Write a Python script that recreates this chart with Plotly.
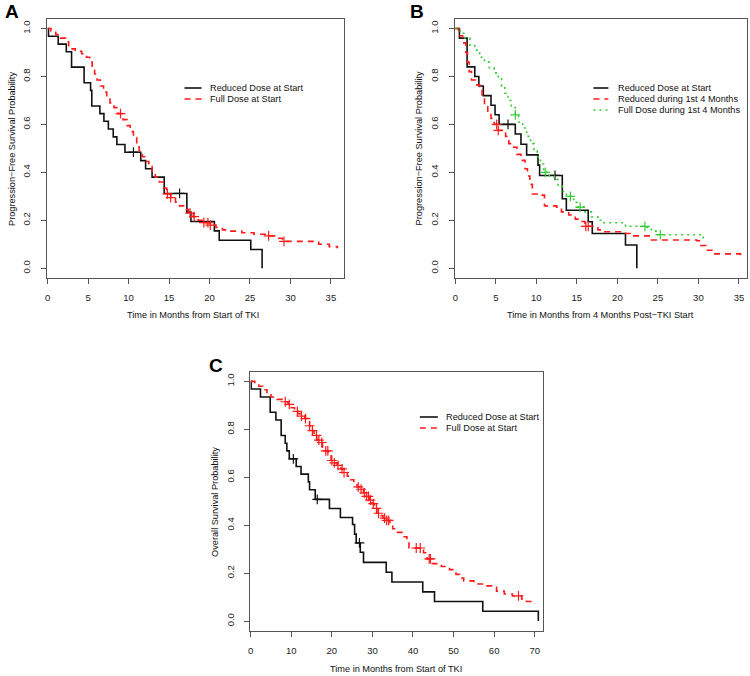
import numpy as np
import plotly.graph_objects as go

# ---- Panel A: PFS from start of TKI ----
pfsA_reduced_t = [0, 0.1, 1.3, 2.3, 2.95, 4.5, 5.3, 5.45, 6.45, 6.95, 7.5, 8.1, 8.55, 9.55,
                  11.5, 12.1, 12.9, 14.4, 17.2, 17.7, 20.6, 21.2, 25.1, 26.5]
pfsA_reduced_s = [1.0, 0.968, 0.935, 0.903, 0.839, 0.774, 0.742, 0.677, 0.645, 0.613, 0.581, 0.548, 0.516, 0.484,
                  0.449, 0.415, 0.380, 0.312, 0.234, 0.195, 0.156, 0.117, 0.078, 0.0]
pfsA_reduced_cens = [10.6, 16.3]

pfsA_full_t = [0, 0.4, 1.0, 1.6, 2.2, 2.6, 3.4, 4.2, 4.8, 5.2, 5.5, 5.8, 6.1, 6.5, 6.9, 7.3, 7.7, 8.2,
               8.7, 9.3, 9.8, 10.2, 10.6, 11.0, 11.3, 11.7, 12.1, 12.5, 12.9, 13.3, 13.8, 14.3, 14.7,
               15.2, 15.8, 16.3, 16.8, 17.4, 18.0, 18.6, 19.3, 20.1, 20.8, 21.6, 22.5, 24.0, 25.5,
               27.0, 28.2, 29.0, 33.5, 34.8, 35.8]
pfsA_full_s = [1.0, 0.99, 0.975, 0.96, 0.945, 0.915, 0.905, 0.895, 0.88, 0.86, 0.835, 0.81, 0.785, 0.76,
               0.735, 0.71, 0.69, 0.67, 0.645, 0.62, 0.595, 0.57, 0.545, 0.515, 0.49, 0.465, 0.445, 0.425,
               0.40, 0.38, 0.36, 0.335, 0.31, 0.295, 0.275, 0.26, 0.245, 0.23, 0.215, 0.2, 0.19, 0.18,
               0.17, 0.16, 0.155, 0.148, 0.142, 0.135, 0.125, 0.112, 0.10, 0.09, 0.083]
pfsA_full_cens = [9.0, 14.8, 15.2, 17.6, 18.1, 19.3, 19.8, 20.1, 27.3, 29.2]

# ---- Panel B: PFS from 4 months post-TKI start ----
pfsB_reduced_t = [0, 0.5, 1.45, 2.4, 2.9, 3.45, 4.4, 4.9, 5.4, 7.4, 8.1, 8.8, 10.2, 10.4, 13.2, 13.7,
                  16.4, 16.9, 21.0, 22.4]
pfsB_reduced_s = [1.0, 0.96, 0.84, 0.80, 0.76, 0.72, 0.68, 0.64, 0.60, 0.56, 0.517, 0.473, 0.43, 0.387,
                  0.29, 0.242, 0.194, 0.145, 0.097, 0.0]
pfsB_reduced_cens = [6.5, 12.3]

pfsB_red4_t = [0, 0.4, 0.9, 1.3, 1.5, 1.7, 2.0, 2.5, 3.0, 3.3, 3.6, 4.0, 4.4, 4.8, 5.2, 6.2, 6.6, 7.2,
               7.6, 8.1, 8.6, 8.9, 9.2, 9.5, 10.7, 11.0, 12.5, 13.1, 14.0, 14.8, 15.3, 16.0, 17.6, 18.3,
               21.0, 21.6, 24.2, 29.8, 30.3, 30.9, 31.8, 35.2]
pfsB_red4_s = [1.0, 0.97, 0.94, 0.90, 0.86, 0.82, 0.785, 0.765, 0.745, 0.71, 0.68, 0.65, 0.625, 0.60,
               0.575, 0.55, 0.52, 0.505, 0.475, 0.45, 0.415, 0.385, 0.35, 0.31, 0.305, 0.26, 0.255, 0.235,
               0.222, 0.205, 0.195, 0.175, 0.16, 0.152, 0.145, 0.135, 0.118, 0.115, 0.095, 0.075, 0.06, 0.04]
pfsB_red4_cens = [5.1, 5.3, 16.1, 16.4]

pfsB_full4_t = [0, 0.6, 1.2, 1.8, 2.4, 3.0, 3.6, 4.2, 4.8, 5.3, 5.7, 6.1, 6.5, 6.9, 7.4, 7.8, 8.3, 8.8,
                9.3, 9.7, 10.1, 10.5, 10.9, 11.6, 12.2, 12.7, 13.2, 13.7, 14.6, 15.0, 16.0, 16.8, 17.6,
                18.2, 21.0, 23.5, 24.2, 25.0, 30.6]
pfsB_full4_s = [1.0, 0.98, 0.96, 0.93, 0.91, 0.88, 0.86, 0.835, 0.815, 0.79, 0.76, 0.73, 0.70, 0.67,
                0.64, 0.61, 0.585, 0.55, 0.52, 0.49, 0.465, 0.435, 0.40, 0.385, 0.37, 0.345, 0.32, 0.30,
                0.275, 0.255, 0.235, 0.215, 0.20, 0.19, 0.175, 0.17, 0.155, 0.14, 0.12]
pfsB_full4_cens = [7.4, 11.1, 14.2, 15.4, 23.4, 25.3]

# ---- Panel C: overall survival ----
osC_reduced_t = [0, 0.1, 2.4, 4.8, 6.2, 7.5, 8.5, 8.9, 9.5, 11.2, 12.4, 14.2, 14.5, 15.9, 19.4, 22.1,
                 25.1, 25.6, 26.0, 27.0, 27.8, 33.4, 34.8, 42.4, 45.3, 57.2, 70.9]
osC_reduced_s = [1.0, 0.968, 0.935, 0.871, 0.839, 0.774, 0.742, 0.710, 0.677, 0.645, 0.613, 0.581, 0.548,
                 0.508, 0.470, 0.432, 0.403, 0.363, 0.326, 0.287, 0.245, 0.204, 0.163, 0.122, 0.082,
                 0.041, 0.0]
osC_reduced_cens = [10.5, 16.4, 26.8]

osC_full_t = [0, 1.0, 2.0, 3.0, 4.0, 5.0, 6.5, 8.0, 9.2, 10.0, 10.8, 11.6, 12.4, 13.3, 14.0, 14.5, 15.0,
              15.6, 16.3, 17.0, 17.7, 18.4, 19.1, 19.8, 20.5, 21.3, 22.2, 23.0, 23.8, 24.6, 25.4, 26.2,
              27.0, 27.8, 28.5, 29.2, 29.9, 30.5, 31.1, 31.8, 32.6, 33.5, 34.3, 35.0, 35.7, 37.5, 38.5,
              39.0, 42.6, 43.5, 44.5, 47.0, 49.0, 50.6, 51.5, 52.5, 55.0, 57.5, 60.6, 62.5, 64.5, 66.8,
              68.0, 70.0]
osC_full_s = [1.0, 0.99, 0.98, 0.965, 0.95, 0.935, 0.925, 0.915, 0.904, 0.89, 0.875, 0.865, 0.855, 0.845,
              0.83, 0.815, 0.795, 0.775, 0.755, 0.745, 0.725, 0.71, 0.69, 0.67, 0.66, 0.65, 0.635, 0.62,
              0.605, 0.59, 0.575, 0.56, 0.55, 0.535, 0.52, 0.505, 0.49, 0.47, 0.45, 0.44, 0.43, 0.42,
              0.405, 0.385, 0.37, 0.352, 0.33, 0.305, 0.285, 0.26, 0.24, 0.228, 0.215, 0.195, 0.18,
              0.168, 0.155, 0.147, 0.125, 0.113, 0.105, 0.092, 0.082, 0.072]
osC_full_cens = [8.5, 9.5, 11.5, 12.5, 13.5, 14.5, 15.2, 16.2, 16.8, 17.5, 18.5, 19.0, 20.0, 20.6, 21.5,
                 22.5, 23.0, 26.5, 27.2, 28.0, 28.5, 29.0, 29.5, 30.2, 31.0, 31.5, 33.0, 33.5, 34.0,
                 40.8, 41.8, 44.0, 44.3, 66.0]

BLACK = "#111111"
RED = "#ff1a1a"
GREEN = "#33cc33"
FONT = "Liberation Sans, Arial, sans-serif"
DASH = "6px,5px"
DOT = "2px,4px"
W, H = 750, 676


def surv_at(times, surv, t):
    idx = np.searchsorted(np.array(times), np.array(t), side="right") - 1
    return list(np.array(surv)[idx])


def km(fig, times, surv, cens, name, color, dash, xa, ya, width=1.6):
    fig.add_trace(go.Scatter(x=times, y=surv, mode="lines", line_shape="hv", name=name, showlegend=False,
                             line=dict(color=color, width=width, dash=dash),
                             xaxis=xa, yaxis=ya, hoverinfo="skip"))
    fig.add_trace(go.Scatter(x=cens, y=surv_at(times, surv, cens), mode="markers", showlegend=False,
                             marker=dict(symbol="cross-thin", size=7, line=dict(color=color, width=1.2)),
                             xaxis=xa, yaxis=ya, hoverinfo="skip"))


# R-style legend without box: short line sample then label, rows 11 px apart
def r_legend(fig, entries, x0, x1, xt, y0, dy=11):
    for i, (label, color, dash) in enumerate(entries):
        yy = 1 - (y0 + i * dy) / H
        fig.add_shape(type="line", xref="paper", yref="paper", x0=x0 / W, x1=x1 / W, y0=yy, y1=yy,
                      line=dict(color=color, width=1.6, dash=dash))
        fig.add_annotation(xref="paper", yref="paper", x=xt / W, y=yy, text=label, showarrow=False,
                           xanchor="left", yanchor="middle",
                           font=dict(family=FONT, size=9.2, color="#111111"))


fig = go.Figure()

km(fig, pfsA_reduced_t, pfsA_reduced_s, pfsA_reduced_cens, "Reduced Dose at Start", BLACK, "solid", "x", "y")
km(fig, pfsA_full_t, pfsA_full_s, pfsA_full_cens, "Full Dose at Start", RED, DASH, "x", "y")

km(fig, pfsB_reduced_t, pfsB_reduced_s, pfsB_reduced_cens, "Reduced Dose at Start", BLACK, "solid", "x2", "y2")
km(fig, pfsB_red4_t, pfsB_red4_s, pfsB_red4_cens, "Reduced during 1st 4 Months", RED, DASH, "x2", "y2")
km(fig, pfsB_full4_t, pfsB_full4_s, pfsB_full4_cens, "Full Dose during 1st 4 Months", GREEN, DOT, "x2", "y2")

km(fig, osC_reduced_t, osC_reduced_s, osC_reduced_cens, "Reduced Dose at Start", BLACK, "solid", "x3", "y3")
km(fig, osC_full_t, osC_full_s, osC_full_cens, "Full Dose at Start", RED, DASH, "x3", "y3")

axis_common = dict(showline=True, mirror=True, linecolor="#555555", linewidth=1, ticks="outside",
                   ticklen=5, tickcolor="#555555", showgrid=False, zeroline=False,
                   tickfont=dict(family=FONT, size=9.5, color="#222222"))
yaxis_common = dict(axis_common, range=[-0.04, 1.04], tickvals=[0, 0.2, 0.4, 0.6, 0.8, 1.0],
                    tickformat=".1f", tickangle=-90, ticklabelstandoff=7)

fig.update_layout(
    width=W, height=H,
    margin=dict(l=0, r=0, t=0, b=0),
    paper_bgcolor="white", plot_bgcolor="white",
    showlegend=False,
    xaxis=dict(axis_common, domain=[0.060, 0.457], range=[-0.1, 36.6], dtick=5, tick0=0, anchor="y",
               ticklabelstandoff=6),
    yaxis=dict(yaxis_common, domain=[0.589, 0.972], anchor="x"),
    xaxis2=dict(axis_common, domain=[0.605, 0.996], range=[-0.1, 36], dtick=5, tick0=0, anchor="y2",
                ticklabelstandoff=6),
    yaxis2=dict(yaxis_common, domain=[0.589, 0.972], anchor="x2"),
    xaxis3=dict(axis_common, domain=[0.332, 0.723], range=[-0.1, 72], dtick=10, tick0=0, anchor="y3",
                ticklabelstandoff=6),
    yaxis3=dict(yaxis_common, domain=[0.067, 0.450], anchor="x3"),
)

r_legend(fig, [("Reduced Dose at Start", BLACK, "solid"), ("Full Dose at Start", RED, DASH)],
         183, 200, 207, 88)
r_legend(fig, [("Reduced Dose at Start", BLACK, "solid"), ("Reduced during 1st 4 Months", RED, DASH),
               ("Full Dose during 1st 4 Months", GREEN, DOT)],
         593, 608, 616, 88)
r_legend(fig, [("Reduced Dose at Start", BLACK, "solid"), ("Full Dose at Start", RED, DASH)],
         419, 437, 443, 417)

title_font = dict(family=FONT, size=9.2, color="#111111")
label_font = dict(family=FONT, size=19, color="black")
annos = [
    dict(text="<b>A</b>", x=10 / W, y=1 - 11.5 / H, font=label_font),
    dict(text="<b>B</b>", x=416 / W, y=1 - 11.5 / H, font=label_font),
    dict(text="<b>C</b>", x=215 / W, y=1 - 365 / H, font=label_font),
    dict(text="Progression\u2212Free Survival Probability", x=9.5 / W, y=1 - 148.5 / H,
         textangle=-90, font=title_font),
    dict(text="Time in Months from Start of TKI", x=192 / W, y=1 - 315 / H, font=title_font),
    dict(text="Progression\u2212Free Survival Probability", x=418 / W, y=1 - 148.5 / H,
         textangle=-90, font=title_font),
    dict(text="Time in Months from 4 Months Post\u2212TKI Start", x=600 / W, y=1 - 315 / H, font=title_font),
    dict(text="Overall Survival Probability", x=213 / W, y=1 - 501.5 / H, textangle=-90, font=title_font),
    dict(text="Time in Months from Start of TKI", x=395.5 / W, y=1 - 669 / H, font=title_font),
]
for a in annos:
    fig.add_annotation(xref="paper", yref="paper", showarrow=False, xanchor="center", yanchor="middle", **a)

# the page body has a default 8px margin; drop it so the 750x676 figure fills the window
fig.write_html("out.html", config={"displayModeBar": False},
               post_script="document.body.style.margin='0';")
